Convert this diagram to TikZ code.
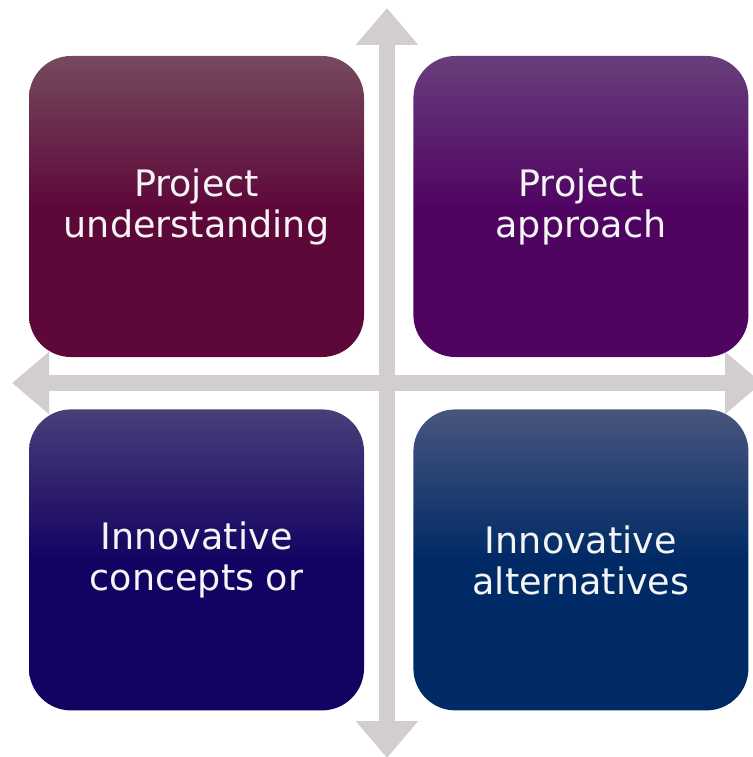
\documentclass[tikz,border=0pt]{standalone}
\usepackage{fontspec}
\setsansfont{DejaVu Sans}
\usepackage{tikz}
\usetikzlibrary{arrows.meta,positioning}

\definecolor{AxisGray}{RGB}{210,205,207}
\definecolor{PlumTop}{RGB}{118,74,94}
\definecolor{PlumBot}{RGB}{94,8,58}
\definecolor{VioletTop}{RGB}{104,62,122}
\definecolor{VioletBot}{RGB}{80,4,98}
\definecolor{IndigoTop}{RGB}{74,62,122}
\definecolor{IndigoBot}{RGB}{20,2,98}
\definecolor{NavyTop}{RGB}{72,86,126}
\definecolor{NavyBot}{RGB}{0,42,102}

\begin{document}
\begin{tikzpicture}[
  x=1pt,y=-1pt,
  node distance=52pt and 49pt,
  quadrant/.style={rounded corners=42pt,minimum width=335pt,minimum height=301pt,
    inner sep=0,align=center,text=white!96!black,
    font=\sffamily\fontsize{36.5}{41}\selectfont},
  axis/.style={AxisGray,line width=16pt,
    {Triangle[width=60pt,length=37pt]}-{Triangle[width=60pt,length=37pt]}}
  ]
  \useasboundingbox (0,0) rectangle (752,757);

  \coordinate (ntop) at (387,8);
  \coordinate (nbot) at (387,758);
  \coordinate (wleft) at (12,383);
  \coordinate (wright) at (762,383);

  \draw[axis] (ntop) -- (nbot);
  \draw[axis] (wleft) -- (wright);

  \node[quadrant,top color=PlumTop,bottom color=PlumBot,middle color=PlumBot]
    (q1) at (196.5,206.5) {Project\\understanding};
  \node[quadrant,top color=VioletTop,bottom color=VioletBot,middle color=VioletBot]
    (q2) [right=of q1] {Project\\approach};
  \node[quadrant,top color=IndigoTop,bottom color=IndigoBot,middle color=IndigoBot]
    (q3) [below=of q1] {Innovative\\concepts or};
  \node[quadrant,top color=NavyTop,bottom color=NavyBot,middle color=NavyBot]
    (q4) [below=of q2] {Innovative\\alternatives};
\end{tikzpicture}
\end{document}
